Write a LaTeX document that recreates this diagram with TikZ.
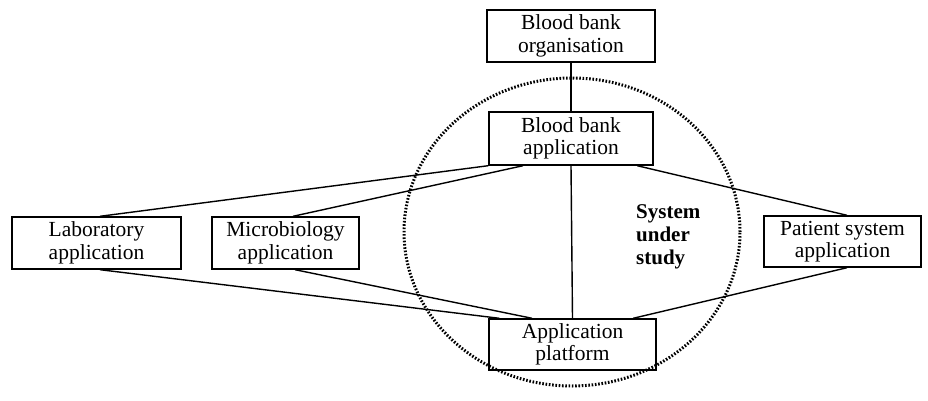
\documentclass[tikz,border=0pt]{standalone}
\usepackage{fontspec}
\setmainfont{Liberation Serif}
\usetikzlibrary{calc}
\begin{document}
\begin{tikzpicture}[x=1pt,y=-1pt,
  box/.style={draw, line width=1.4pt, align=center, inner sep=0pt,
    font=\fontsize{21.5}{22.5}\selectfont},
  link/.style={line width=1.4pt},
  boundary/.style={line width=3pt, dash pattern=on 1.6pt off 1.7pt}]
\useasboundingbox (0,0) rectangle (928,401);

% boundary of the system under study
\draw[boundary] (572,232) ellipse [x radius=168pt, y radius=154pt];

% applications and organisation
\node[box, minimum width=168pt, minimum height=52pt] (org) at (571,36) {Blood bank\\organisation};
\node[box, minimum width=164pt, minimum height=53pt] (bba) at (571,138.5) {Blood bank\\application};
\node[box, minimum width=169pt, minimum height=52pt] (lab) at (96.5,243) {Laboratory\\application};
\node[box, minimum width=147pt, minimum height=52pt] (mic) at (285.5,243) {Microbiology\\application};
\node[box, minimum width=157pt, minimum height=51pt] (pat) at (842.5,241.5) {Patient system\\application};
\node[box, minimum width=167pt, minimum height=51pt] (plat) at (572.5,344.5) {Application\\platform};

\node[align=left, anchor=west, inner sep=0pt,
  font=\fontsize{21}{23}\selectfont\bfseries] (sus) at (636,237) {System\\under\\study};

% connectors
\draw[link] (org.south) -- (bba.north);
\draw[link] (bba.south) -- (plat.north);
\draw[link] ($(lab.north)+(3.5,0)$) -- (bba.south west);
\draw[link] ($(mic.north)+(7.5,0)$) -- ($(bba.south west)!0.21!(bba.south east)$);
\draw[link] ($(pat.north)+(4.5,0)$) -- ($(bba.south west)!0.9!(bba.south east)$);
\draw[link] ($(lab.south)+(3.5,0)$) -- ($(plat.north west)!0.066!(plat.north east)$);
\draw[link] ($(mic.south)+(9.5,0)$) -- ($(plat.north west)!0.26!(plat.north east)$);
\draw[link] ($(pat.south)+(4.5,0)$) -- ($(plat.north west)!0.86!(plat.north east)$);
\end{tikzpicture}
\end{document}
